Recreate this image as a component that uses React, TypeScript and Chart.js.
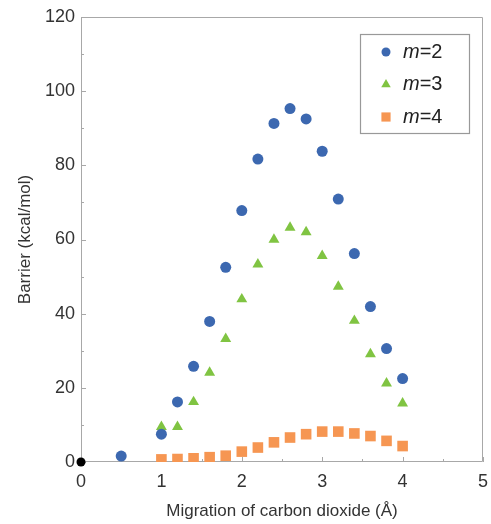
import React, { useEffect, useRef } from "react";
import { Chart, registerables } from "chart.js";
Chart.register(...registerables);

const xTicks = [0, 1, 2, 3, 4, 5];
const yTicks = [0, 20, 40, 60, 80, 100, 120];

const xM2 = [0.5, 1.0, 1.2, 1.4, 1.6, 1.8, 2.0, 2.2, 2.4, 2.6, 2.8, 3.0, 3.2, 3.4, 3.6, 3.8, 4.0];
const yM2 = [1.6, 7.5, 16.2, 25.8, 37.9, 52.5, 67.8, 81.7, 91.3, 95.3, 92.5, 83.8, 70.9, 56.2, 41.9, 30.6, 22.5];

const xM3 = [1.0, 1.2, 1.4, 1.6, 1.8, 2.0, 2.2, 2.4, 2.6, 2.8, 3.0, 3.2, 3.4, 3.6, 3.8, 4.0];
const yM3 = [9.5, 9.5, 16.2, 24.1, 33.2, 43.9, 53.3, 60.0, 63.2, 62.0, 55.6, 47.3, 38.1, 29.1, 21.2, 15.8];

const xM4 = [1.0, 1.2, 1.4, 1.6, 1.8, 2.0, 2.2, 2.4, 2.6, 2.8, 3.0, 3.2, 3.4, 3.6, 3.8, 4.0];
const yM4 = [0.7, 0.8, 1.0, 1.3, 1.7, 2.8, 3.9, 5.3, 6.6, 7.5, 8.2, 8.2, 7.7, 7.0, 5.7, 4.3];

const xOrigin = [0];
const yOrigin = [0];

const legendLabels = ["2", "3", "4"];
const BLUE = "rgb(60,104,176)";
const GREEN = "rgb(128,196,66)";
const ORANGE = "rgb(246,150,82)";
const AXIS = "#a8a8a8";
const FONT = "'Liberation Sans', Arial, sans-serif";

const pts = (xs: number[], ys: number[]) => xs.map((x, i) => ({ x, y: ys[i] }));

const framePlugin = {
  id: "frame",
  beforeDatasetsDraw(chart: any) {
    const { ctx, chartArea: a, scales } = chart;
    const xs = scales.x;
    const ys = scales.y;
    ctx.save();
    ctx.strokeStyle = AXIS;
    ctx.lineWidth = 1;
    ctx.beginPath();
    ctx.rect(a.left + 0.5, a.top + 0.5, a.right - a.left - 1, a.bottom - a.top - 1);
    ctx.stroke();
    ctx.beginPath();
    for (let v = 0; v <= 5.0001; v += 0.5) {
      const px = Math.round(xs.getPixelForValue(v)) + 0.5;
      const len = Math.abs(v - Math.round(v)) < 1e-6 ? 5 : 3;
      ctx.moveTo(px, a.bottom);
      ctx.lineTo(px, a.bottom - len);
    }
    for (let v = 0; v <= 120.0001; v += 10) {
      const py = Math.round(ys.getPixelForValue(v)) + 0.5;
      const len = v % 20 === 0 ? 5 : 3;
      ctx.moveTo(a.left, py);
      ctx.lineTo(a.left + len, py);
    }
    ctx.stroke();
    ctx.restore();
  },
  afterDraw(chart: any) {
    const { ctx, chartArea: a } = chart;
    const bx = a.right - 123;
    const by = a.top + 17;
    const bw = 109;
    const bh = 99;
    ctx.save();
    ctx.fillStyle = "#fff";
    ctx.fillRect(bx, by, bw, bh);
    ctx.strokeStyle = "#999";
    ctx.lineWidth = 1.2;
    ctx.strokeRect(bx + 0.5, by + 0.5, bw, bh);
    const colors = [BLUE, GREEN, ORANGE];
    const styles = ["circle", "triangle", "rect"];
    const radii = [4.5, 5.5, 6.5];
    for (let i = 0; i < 3; i++) {
      const cy = by + 18 + i * 32.5;
      const mx = bx + 26;
      ctx.fillStyle = colors[i];
      ctx.beginPath();
      if (styles[i] === "circle") {
        ctx.arc(mx, cy, radii[i], 0, Math.PI * 2);
      } else if (styles[i] === "triangle") {
        const r = radii[i];
        ctx.moveTo(mx, cy - r);
        ctx.lineTo(mx + r * 0.866, cy + r * 0.5);
        ctx.lineTo(mx - r * 0.866, cy + r * 0.5);
        ctx.closePath();
      } else {
        const s = radii[i] * Math.SQRT1_2;
        ctx.rect(mx - s, cy - s, 2 * s, 2 * s);
      }
      ctx.fill();
      ctx.fillStyle = "#222";
      ctx.textBaseline = "middle";
      ctx.textAlign = "left";
      ctx.font = `italic 20px ${FONT}`;
      const tx = bx + 43;
      ctx.fillText("m", tx, cy);
      const w = ctx.measureText("m").width;
      ctx.font = `20px ${FONT}`;
      ctx.fillText("=" + legendLabels[i], tx + w, cy);
    }
    ctx.restore();
  },
};

export default function App() {
  const ref = useRef<HTMLCanvasElement>(null);
  useEffect(() => {
    const chart = new Chart(ref.current!, {
      type: "scatter",
      data: {
        datasets: [
          {
            label: "m=2",
            data: pts(xM2, yM2),
            pointStyle: "circle",
            pointRadius: 5.5,
            backgroundColor: BLUE,
            borderColor: BLUE,
            borderWidth: 0,
          },
          {
            label: "m=3",
            data: pts(xM3, yM3),
            pointStyle: "triangle",
            pointRadius: 6.3,
            backgroundColor: GREEN,
            borderColor: GREEN,
            borderWidth: 0,
          },
          {
            label: "m=4",
            data: pts(xM4, yM4),
            pointStyle: "rect",
            pointRadius: 7.5,
            backgroundColor: ORANGE,
            borderColor: ORANGE,
            borderWidth: 0,
          },
          {
            label: "origin",
            data: pts(xOrigin, yOrigin),
            pointStyle: "circle",
            pointRadius: 4.5,
            backgroundColor: "#000",
            borderColor: "#000",
            borderWidth: 0,
            clip: false as any,
          },
        ],
      },
      options: {
        animation: false,
        responsive: false,
        devicePixelRatio: 1,
        layout: { padding: { top: 17, right: 8, left: 0, bottom: 0 } },
        plugins: { legend: { display: false }, tooltip: { enabled: false } },
        scales: {
          x: {
            type: "linear",
            min: 0,
            max: 5,
            afterBuildTicks: (s: any) => {
              s.ticks = xTicks.map((v) => ({ value: v }));
            },
            afterFit: (s: any) => {
              s.height = 62;
              s.paddingLeft = 0;
              s.paddingRight = 0;
            },
            grid: { display: false, drawTicks: false },
            border: { display: false },
            ticks: { color: "#333", font: { family: FONT, size: 18 }, padding: 9, maxRotation: 0 },
            title: {
              display: true,
              text: "Migration of carbon dioxide (Å)",
              color: "#333",
              font: { family: FONT, size: 17 },
              padding: { top: 0, bottom: 2 },
            },
          },
          y: {
            type: "linear",
            min: 0,
            max: 120,
            afterBuildTicks: (s: any) => {
              s.ticks = yTicks.map((v) => ({ value: v }));
            },
            afterFit: (s: any) => {
              s.width = 81;
              s.paddingTop = 0;
              s.paddingBottom = 0;
            },
            grid: { display: false, drawTicks: false },
            border: { display: false },
            ticks: { color: "#333", font: { family: FONT, size: 18 }, padding: 6 },
            title: {
              display: true,
              text: "Barrier (kcal/mol)",
              color: "#333",
              font: { family: FONT, size: 17 },
              padding: { top: 15, bottom: 0 },
            },
          },
        },
      },
      plugins: [framePlugin],
    });
    return () => chart.destroy();
  }, []);
  return (
    <div style={{ position: "fixed", left: 0, top: 0, width: 491, height: 524, background: "#fff" }}>
      <canvas ref={ref} width={491} height={524} style={{ display: "block" }} />
    </div>
  );
}
